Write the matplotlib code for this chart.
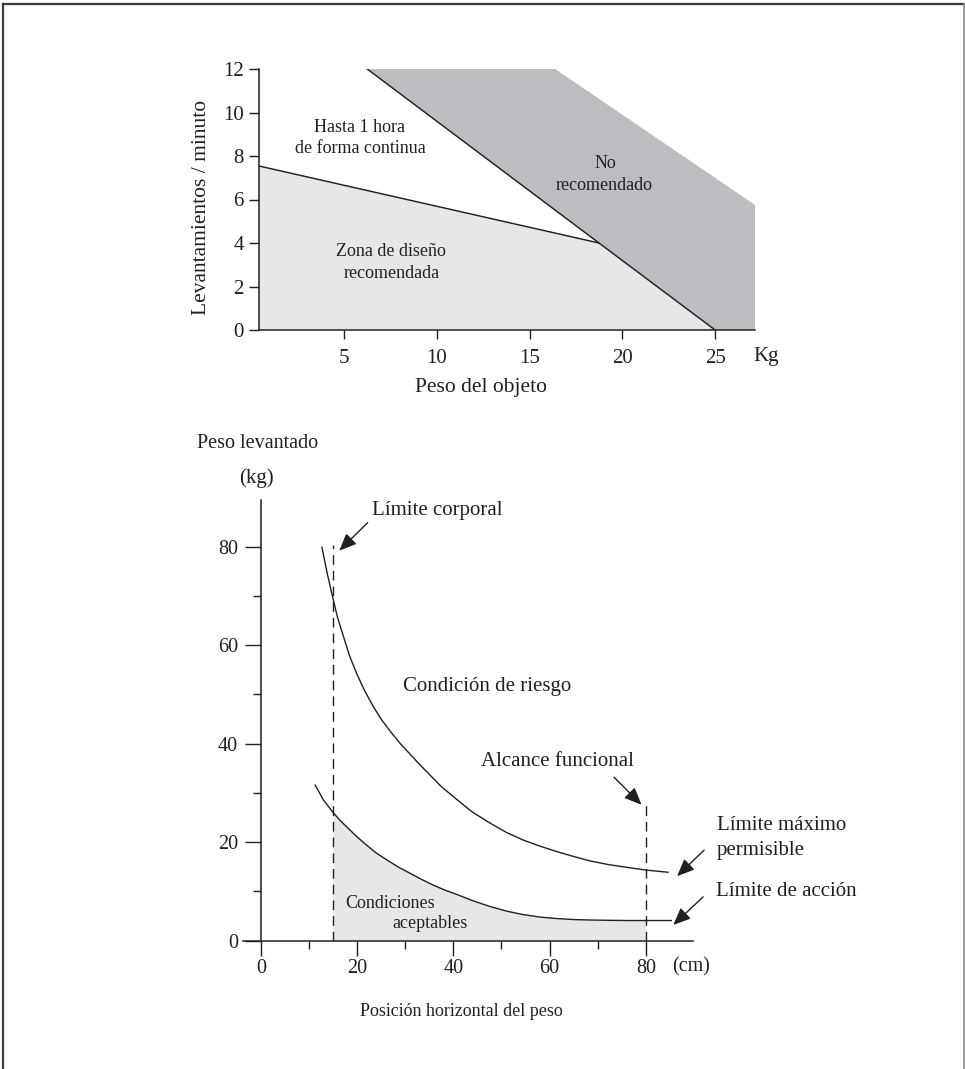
import numpy as np
import matplotlib
matplotlib.use("Agg")
import matplotlib.pyplot as plt
from matplotlib.lines import Line2D

W, H = 965, 1069
DPI = 100
INK = "#231f20"
SERIF = "Liberation Serif"
DARK_FILL = "#bcbdc0"
LIGHT_FILL = "#e6e7e8"

# ---- Lifts per minute vs object weight ----
zone_edge_kg = [0.42, 18.74, 25.0]
zone_edge_rate = [7.54, 4.0, 0.0]
limit_kg = [6.25, 18.74, 25.0]
limit_rate = [12.0, 4.0, 0.0]
danger_outer_kg = [16.38, 27.15, 27.15]
danger_outer_rate = [12.0, 5.75, 0.0]
weight_ticks = [5, 10, 15, 20, 25]
rate_ticks = [0, 2, 4, 6, 8, 10, 12]

# ---- Lifted weight vs horizontal position ----
# maximum permissible limit
mpl_cm = [12.7, 13.8, 14.9, 15.9, 17.2, 18.5, 19.9, 21.5, 23.4, 25.0, 27.0,
          29.0, 31.0, 33.0, 35.2, 37.5, 40.7, 44.0, 47.6, 51.0, 54.5, 58.0,
          61.5, 65.0, 68.4, 72.0, 76.0, 80.0, 84.6]
mpl_kg = [79.9, 74.6, 69.9, 65.8, 61.7, 57.7, 54.3, 50.9, 47.5, 45.0, 42.4,
          40.0, 37.9, 35.8, 33.6, 31.3, 28.7, 26.1, 23.9, 22.0, 20.45, 19.2,
          18.1, 17.1, 16.2, 15.5, 14.9, 14.35, 13.9]
# action limit
al_cm = [11.3, 13.0, 15.0, 16.5, 18.5, 20.2, 22.0, 24.0, 26.2, 28.5, 31.0,
         33.4, 35.8, 38.2, 40.7, 44.1, 47.6, 51.1, 54.5, 58.0, 61.5, 64.9,
         68.4, 71.8, 76.0, 80.0, 85.3]
al_kg = [31.6, 28.6, 26.05, 24.4, 22.5, 20.9, 19.4, 17.8, 16.4, 15.0, 13.7,
         12.45, 11.3, 10.3, 9.4, 8.1, 6.95, 6.0, 5.3, 4.8, 4.5, 4.3,
         4.2, 4.15, 4.1, 4.1, 4.1]
body_limit_cm = 15.0
reach_limit_cm = 80.0
body_line_top = 80.3
reach_line_top = 28.0
pos_major = [0, 20, 40, 60, 80]
pos_minor = [10, 30, 50, 70]
load_major = [0, 20, 40, 60, 80]
load_minor = [10, 30, 50, 70]

plt.rcParams["font.family"] = [SERIF, "DejaVu Serif"]
plt.rcParams["text.color"] = INK
plt.rcParams["axes.edgecolor"] = INK
plt.rcParams["xtick.color"] = INK
plt.rcParams["ytick.color"] = INK

fig = plt.figure(figsize=(W / DPI, H / DPI), dpi=DPI)
fig.patch.set_facecolor("white")


def fpos(x, y):
    return x / W, 1 - y / H


def ftext(x, y, s, size, ha="left", **kw):
    fig.text(*fpos(x, y), s, fontsize=size, ha=ha, va="center",
             color=INK, **kw)


# page frame
for xs, ys, lw, col in [((3, 3), (4, H), 1.6, "#3c3c3c"),
                        ((3, 964), (4, 4), 1.6, "#3c3c3c"),
                        ((963.5, 963.5), (4, H), 1.2, "#8a8a8a")]:
    fig.add_artist(Line2D([x / W for x in xs], [1 - y / H for y in ys],
                          lw=lw, color=col, transform=fig.transFigure))

# ================= upper chart =================
ax1 = fig.add_axes([259 / W, 1 - 330 / H, (755 - 259) / W, (330 - 69) / H])
ax1.set_xlim(zone_edge_kg[0], danger_outer_kg[-1])
ax1.set_ylim(rate_ticks[0], rate_ticks[-1])

ax1.fill([zone_edge_kg[0]] + zone_edge_kg, [0] + zone_edge_rate,
         color=LIGHT_FILL, lw=0, zorder=1)
ax1.fill(limit_kg + danger_outer_kg[::-1], limit_rate + danger_outer_rate[::-1],
         color=DARK_FILL, lw=0, zorder=1)
ax1.plot(zone_edge_kg[:2], zone_edge_rate[:2], color=INK, lw=1.05, zorder=3)
ax1.plot(limit_kg, limit_rate, color=INK, lw=1.05, zorder=3)

for side in ("top", "right"):
    ax1.spines[side].set_visible(False)
ax1.spines["left"].set_linewidth(1.1)
ax1.spines["bottom"].set_linewidth(1.1)
ax1.set_xticks(weight_ticks)
ax1.set_yticks(rate_ticks)
ax1.tick_params(axis="x", direction="out", length=6.5, width=1.0, pad=7,
                labelsize=15)
ax1.tick_params(axis="y", direction="out", length=7, width=1.0, pad=4,
                labelsize=15)
ax1.patch.set_alpha(0)

ftext(753, 357, "Kg", 15)
ftext(481, 387, "Peso del objeto", 15.5, ha="center")
fig.text(*fpos(201, 207), "Levantamientos / minuto", fontsize=15.5,
         rotation=90, ha="center", va="center", color=INK)
ftext(360, 127, "Hasta 1 hora", 13, ha="center")
ftext(360, 149, "de forma continua", 13, ha="center")
ftext(605, 163, "No", 13, ha="center")
ftext(604, 185, "recomendado", 13, ha="center")
ftext(391, 251, "Zona de diseño", 13, ha="center")
ftext(392, 273, "recomendada", 13, ha="center")

# ================= lower chart =================
ax2 = fig.add_axes([243 / W, 1 - 940.7 / H, 450 / W, 440.7 / H])
ax2.set_xlim(-3.7, 89.8)
ax2.set_ylim(0, 89.5)
ax2.patch.set_alpha(0)

x_al = np.array(al_cm)
y_al = np.array(al_kg)
inside = (x_al >= body_limit_cm) & (x_al <= reach_limit_cm)
ax2.fill_between(x_al[inside], 0, y_al[inside], color=LIGHT_FILL, lw=0,
                 zorder=1)
ax2.plot(mpl_cm, mpl_kg, color=INK, lw=1.0, zorder=3,
         solid_joinstyle="round")
ax2.plot(al_cm, al_kg, color=INK, lw=1.0, zorder=3, solid_joinstyle="round")
ax2.plot([body_limit_cm, body_limit_cm], [0, body_line_top], color=INK,
         lw=1.0, linestyle=(0, (7, 4.3)), zorder=3)
ax2.plot([reach_limit_cm, reach_limit_cm], [0, reach_line_top], color=INK,
         lw=1.0, linestyle=(0, (7, 4.3)), zorder=3)

for side in ("top", "right"):
    ax2.spines[side].set_visible(False)
ax2.spines["left"].set_position(("data", 0))
ax2.spines["left"].set_linewidth(1.1)
ax2.spines["bottom"].set_linewidth(1.1)
ax2.set_xticks(pos_major)
ax2.set_xticks(pos_minor, minor=True)
ax2.set_yticks(load_major)
ax2.set_yticks(load_minor, minor=True)
ax2.tick_params(axis="x", which="major", direction="out", length=10.8,
                width=1.0, pad=2.5, labelsize=14.5)
ax2.tick_params(axis="x", which="minor", direction="out", length=5.5,
                width=1.0)
ax2.tick_params(axis="y", which="major", direction="out", length=11.5,
                width=1.0, pad=5, labelsize=14.5)
ax2.tick_params(axis="y", which="minor", direction="out", length=5.8,
                width=1.0)

arrow_kw = dict(arrowstyle="-|>,head_length=1.05,head_width=0.45",
                mutation_scale=10, lw=1.0, color=INK, shrinkA=0, shrinkB=0)
for head, tail in [((16.3, 79.2), (22.2, 84.9)),
                   ((79.1, 27.6), (73.4, 33.2)),
                   ((86.5, 13.1), (92.1, 18.4)),
                   ((85.7, 3.2), (91.9, 8.9))]:
    ax2.annotate("", xy=head, xytext=tail, xycoords="data",
                 textcoords="data", arrowprops=arrow_kw,
                 annotation_clip=False)

ftext(197, 443, "Peso levantado", 14.5)
ftext(256, 478, "(kg)", 15, ha="center")
ftext(372, 511, "Límite corporal", 15)
ftext(403, 686, "Condición de riesgo", 15)
ftext(481, 761, "Alcance funcional", 15)
ftext(717, 826, "Límite máximo", 15)
ftext(717, 850, "permisible", 15)
ftext(716, 892, "Límite de acción", 15)
ftext(345, 903, "Condiciones", 13)
ftext(392, 924, "aceptables", 13)
ftext(672, 967, "(cm)", 14.5)
ftext(461, 1012, "Posición horizontal del peso", 13, ha="center")

fig.savefig("out.png", dpi=DPI, facecolor="white")
